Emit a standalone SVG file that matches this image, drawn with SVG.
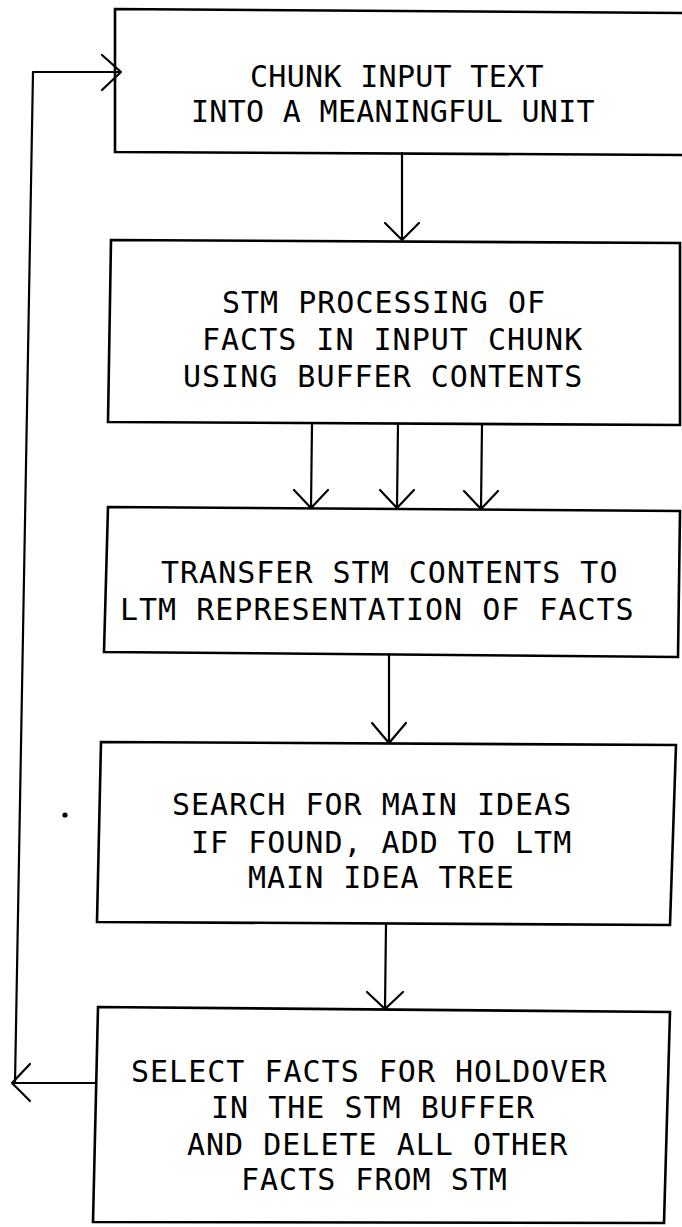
<svg xmlns="http://www.w3.org/2000/svg" width="682" height="1227" viewBox="0 0 682 1227">
  <style>
    .box { fill: none; stroke: #000; stroke-width: 2.6; stroke-linejoin: miter; }
    .ln { fill: none; stroke: #000; stroke-width: 2.2; stroke-linecap: round; stroke-linejoin: round; }
    .t { font-family: "DejaVu Sans Mono", "Liberation Mono", monospace; font-size: 30px; letter-spacing: 1px; fill: #000; }
    .t1 { letter-spacing: 0.3px; }
  </style>
  <rect x="0" y="0" width="682" height="1227" fill="#fff"/>

  <g id="node-chunk">
    <path class="box" d="M684,13 L115,9 L115,152 L684,155"/>
    <text class="t t1" x="250" y="87">CHUNK INPUT TEXT</text>
    <text class="t t1" x="191" y="122">INTO A MEANINGFUL UNIT</text>
  </g>

  <g id="node-stm">
    <path class="box" d="M111,240 L680,243 L680,425 L108,422 Z"/>
    <text class="t" x="222" y="313">STM PROCESSING OF</text>
    <text class="t" x="202" y="350">FACTS IN INPUT CHUNK</text>
    <text class="t" x="183" y="387">USING BUFFER CONTENTS</text>
  </g>

  <g id="node-transfer">
    <path class="box" d="M108,507 L680,511 L678,657 L104,652 Z"/>
    <text class="t" x="161" y="583">TRANSFER STM CONTENTS TO</text>
    <text class="t" x="120" y="620">LTM REPRESENTATION OF FACTS</text>
  </g>

  <g id="node-search">
    <path class="box" d="M101,742 L676,745 L670,925 L97,922 Z"/>
    <text class="t" x="172" y="815">SEARCH FOR MAIN IDEAS</text>
    <text class="t" x="191" y="853">IF FOUND, ADD TO LTM</text>
    <text class="t" x="248" y="888">MAIN IDEA TREE</text>
  </g>

  <g id="node-select">
    <path class="box" d="M98,1007 L670,1012 L664,1223 L93,1222 Z"/>
    <text class="t" x="131" y="1082">SELECT FACTS FOR HOLDOVER</text>
    <text class="t" x="211" y="1118">IN THE STM BUFFER</text>
    <text class="t" x="187" y="1155">AND DELETE ALL OTHER</text>
    <text class="t" x="241" y="1190">FACTS FROM STM</text>
  </g>

  <g id="connectors">
    <path class="ln" d="M402,153 L402,239 M385,223 L402,240 L419,223"/>
    <path class="ln" d="M312,424 L311,507 M294,490 L311,508 L328,490"/>
    <path class="ln" d="M398,424 L397,507 M380,490 L397,508 L414,490"/>
    <path class="ln" d="M482,425 L481,508 M464,491 L481,509 L498,491"/>
    <path class="ln" d="M389,654 L389,742 M372,723 L389,743 L406,723"/>
    <path class="ln" d="M386,924 L385,1008 M367,992 L385,1009 L403,992"/>
    <path class="ln" d="M96,1083 L12,1083 M30,1064 L12,1083 L30,1101"/>
    <path class="ln" d="M15,1083 L33,72 L121,72 M102,55 L121,72 L102,90"/>
  </g>

  <circle cx="65" cy="815" r="2.6" fill="#000"/>
</svg>
